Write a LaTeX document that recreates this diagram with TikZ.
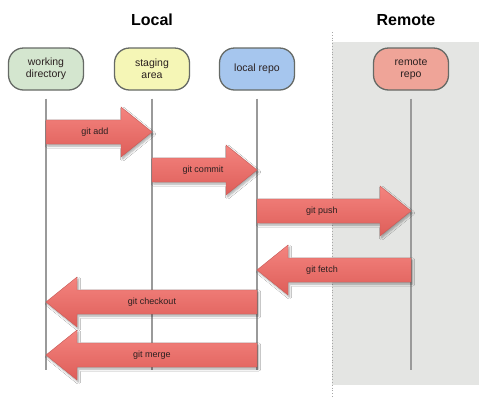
\documentclass[tikz,border=0pt]{standalone}
\usepackage{fontspec}
\setmainfont{Liberation Sans}
\usetikzlibrary{shapes.misc,shadows.blur,calc}
\definecolor{wdfill}{HTML}{D4E6CF}
\definecolor{safill}{HTML}{F5F6B6}
\definecolor{lrfill}{HTML}{A6C6EE}
\definecolor{rrfill}{HTML}{EFA498}
\definecolor{boxedge}{HTML}{666A66}
\definecolor{remotebg}{HTML}{E4E5E3}
\definecolor{arrtop}{HTML}{F4847F}
\definecolor{arrbot}{HTML}{DE5E59}
\definecolor{arredge}{HTML}{C95B57}
\definecolor{lifegray}{HTML}{9A9A9A}
\definecolor{txt}{HTML}{2A2020}
\tikzset{
  x=1pt, y=-1pt,
  stagebox/.style={rectangle, rounded corners=15pt, draw=boxedge, line width=1.3pt,
    minimum width=75pt, minimum height=42pt, inner sep=2pt,
    align=center, font=\fontsize{10.5}{12}\selectfont, text=txt},
  title/.style={font=\fontsize{16}{18}\selectfont\bfseries, text=black},
  lifeline/.style={draw=lifegray, line width=1.2pt},
  bigarrow/.style={top color=arrtop, bottom color=arrbot, draw=arredge,
    line width=0.4pt, line join=miter,
    blur shadow={shadow xshift=1.5pt, shadow yshift=-2pt, shadow blur steps=6, shadow opacity=35}},
  arrowlabel/.style={font=\fontsize{9}{10}\selectfont, text=txt, inner sep=1pt},
}
% #1 from coordinate, #2 to coordinate, #3 label node name, #4 label x, #5 text
\newcommand\gitarrow[5]{%
  \path[bigarrow] let \p1=(#1), \p2=(#2), \n1={ifthenelse(\x2>\x1,1,-1)} in
    (\x1,\y1+12pt) -- (\x2-\n1*31pt,\y1+12pt) -- (\x2-\n1*31pt,\y1+25pt)
    -- (\x2,\y1) -- (\x2-\n1*31pt,\y1-25pt) -- (\x2-\n1*31pt,\y1-12pt)
    -- (\x1,\y1-12pt) -- cycle;
  \node[arrowlabel] (#3) at (#4,0 |- #1) {#5};
}
\begin{document}
\begin{tikzpicture}
\useasboundingbox (0,0) rectangle (500,405);
\fill[white] (0,0) rectangle (500,405);
% remote background
\fill[remotebg] (332,42) rectangle (479,385);
\draw[gray!70, line width=0.8pt, dotted] (332,32) -- (332,397);
% titles
\node[title] (localT) at (152,20) {Local};
\node[title] (remoteT) at (406,20) {Remote};
% stage boxes
\node[stagebox, fill=wdfill] (wd) at (46,69) {working\\directory};
\node[stagebox, fill=safill] (sa) at (152,69) {staging\\area};
\node[stagebox, fill=lrfill] (lr) at (257,69) {local repo};
\node[stagebox, fill=rrfill] (rr) at (411,69) {remote\\repo};
% lifelines
\foreach \n in {wd,sa,lr,rr}{
  \coordinate (\n bot) at (\n.south |- 0,370);
  \draw[lifeline, shorten <=8pt] (\n.south) -- (\n bot);
}
% arrow anchor coordinates on lifelines
\coordinate (a1) at (wd |- 0,132);  \coordinate (a2) at (sa |- 0,132);
\coordinate (c1) at (sa |- 0,170);  \coordinate (c2) at (lr |- 0,170);
\coordinate (p1) at (lr |- 0,211);  \coordinate (p2) at (rr |- 0,211);
\coordinate (f1) at (rr |- 0,270);  \coordinate (f2) at (lr |- 0,270);
\coordinate (k1) at (lr |- 0,302);  \coordinate (k2) at (wd |- 0,302);
\coordinate (m1) at (lr |- 0,355);  \coordinate (m2) at (wd |- 0,355);
% big arrows
\gitarrow{a1}{a2}{addL}{95}{git add}
\gitarrow{c1}{c2}{commitL}{203}{git commit}
\gitarrow{p1}{p2}{pushL}{322}{git push}
\gitarrow{f1}{f2}{fetchL}{322}{git fetch}
\gitarrow{k1}{k2}{checkoutL}{152}{git checkout}
\gitarrow{m1}{m2}{mergeL}{152}{git merge}
\end{tikzpicture}
\end{document}
